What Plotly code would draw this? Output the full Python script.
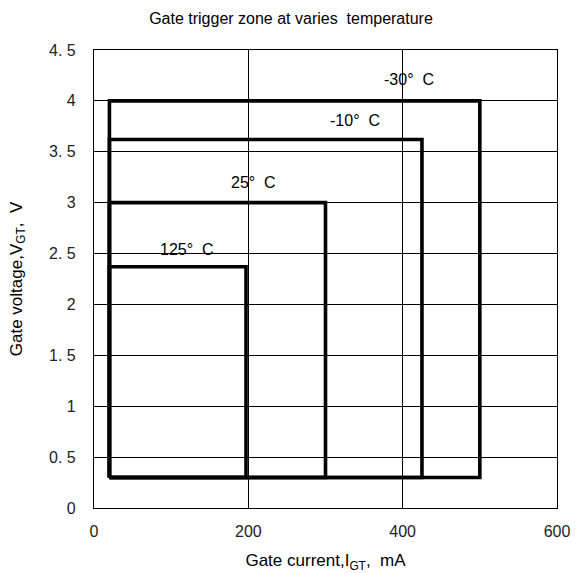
import plotly.graph_objects as go

# Gate trigger zones (rectangles) per junction temperature
temperatures = ["-30", "-10", "25", "125"]
igt_min = [20, 20, 20, 20]          # mA
igt_max = [500, 425, 300, 197]      # mA
vgt_min = [0.3, 0.3, 0.3, 0.3]      # V
vgt_max = [4.0, 3.62, 3.0, 2.37]    # V

# label anchor positions (data units)
label_x = [408, 338, 207, 120]
label_y = [4.21, 3.81, 3.20, 2.54]

x_tick_vals = [0, 200, 400, 600]
x_tick_text = ["0", "200", "400", "600"]
y_tick_vals = [0, 0.5, 1, 1.5, 2, 2.5, 3, 3.5, 4, 4.5]
y_tick_text = ["0", "0. 5", "1", "1. 5", "2", "2. 5", "3", "3. 5", "4", "4. 5"]

FONT = "Liberation Sans, Arial, sans-serif"

fig = go.Figure()

for t, x0, x1, y0, y1 in zip(temperatures, igt_min, igt_max, vgt_min, vgt_max):
    fig.add_trace(go.Scatter(
        x=[x0, x1, x1, x0, x0],
        y=[y0, y0, y1, y1, y0],
        mode="lines",
        line=dict(color="black", width=3.6),
        name=t + "°C",
        showlegend=False,
        hoverinfo="skip",
    ))

for t, lx, ly in zip(temperatures, label_x, label_y):
    fig.add_annotation(
        x=lx, y=ly, text=t + "°\u00a0\u00a0C", showarrow=False,
        font=dict(family=FONT, size=16, color="black"),
        xanchor="center", yanchor="middle",
    )

fig.update_layout(
    width=582, height=573,
    margin=dict(l=94, r=25, t=50, b=65),
    paper_bgcolor="white", plot_bgcolor="white",
    showlegend=False,
    title=dict(
        text="Gate trigger zone at varies\u00a0 temperature",
        font=dict(family=FONT, size=16, color="black"),
        x=0.5, xanchor="center", xref="container",
        y=1 - 18 / 573, yanchor="middle",
    ),
)

fig.update_xaxes(
    range=[0, 600], automargin=False,
    tickvals=x_tick_vals, ticktext=x_tick_text,
    tickfont=dict(family=FONT, size=16, color="#222"),
    ticks="", ticklabelstandoff=9,
    showgrid=True, gridcolor="black", gridwidth=1,
    showline=True, linecolor="black", linewidth=1.2, mirror=True,
    zeroline=False,
    title=dict(text="Gate current,I<sub>GT</sub>,\u00a0\u00a0mA",
               font=dict(family=FONT, size=17, color="black"), standoff=16),
)

fig.update_yaxes(
    range=[0, 4.5], automargin=False,
    tickvals=y_tick_vals, ticktext=y_tick_text,
    tickfont=dict(family=FONT, size=16, color="#222"),
    ticks="", ticklabelstandoff=14,
    showgrid=True, gridcolor="black", gridwidth=1,
    showline=True, linecolor="black", linewidth=1.2, mirror=True,
    zeroline=False,
    title=dict(text="Gate voltage,V<sub>GT</sub>,\u00a0\u00a0V",
               font=dict(family=FONT, size=17, color="black"), standoff=22),
)

fig.write_html("out.html")
